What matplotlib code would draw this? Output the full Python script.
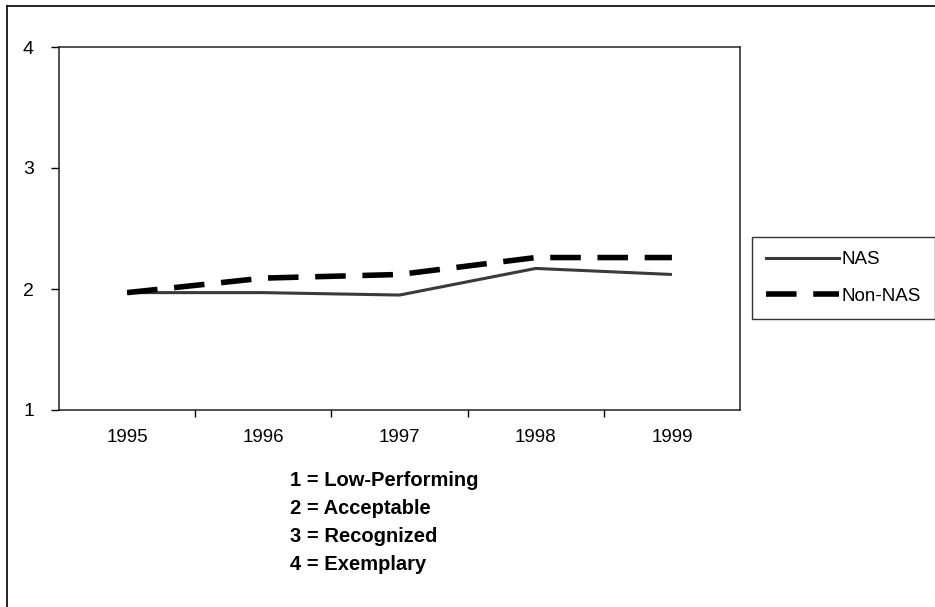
import matplotlib
matplotlib.use("Agg")
import matplotlib.pyplot as plt
from matplotlib.lines import Line2D

plt.rcParams['font.family'] = ['Liberation Sans', 'DejaVu Sans']

years = ["1995", "1996", "1997", "1998", "1999"]
nas = [1.97, 1.97, 1.95, 2.17, 2.12]
non_nas = [1.97, 2.09, 2.12, 2.26, 2.26]
y_ticks = [1, 2, 3, 4]
key_lines = ["1 = Low-Performing", "2 = Acceptable", "3 = Recognized", "4 = Exemplary"]

W, H = 935, 607
fig = plt.figure(figsize=(W / 100, H / 100), dpi=100)
ax = fig.add_axes([59 / W, 1 - 410 / H, (740 - 59) / W, (410 - 47) / H])

x = list(range(len(years)))
ax.plot(x, nas, color="#3a3a3a", lw=2.2, solid_capstyle="butt", label="NAS")
ax.plot(x, non_nas, color="black", lw=4, linestyle=(0, (5.5, 3)), dash_capstyle="butt", label="Non-NAS")

ax.set_xlim(-0.5, len(years) - 0.5)
ax.set_ylim(1, 4)
ax.set_yticks(y_ticks)
ax.set_yticklabels([str(v) for v in y_ticks], fontsize=14)
ax.set_xticks(x)
ax.set_xticklabels(years, fontsize=13.5)
ax.tick_params(axis="x", length=0, pad=14)
ax.set_xticks([i + 0.5 for i in x[:-1]], minor=True)
ax.tick_params(axis="x", which="minor", length=5, width=1, direction="out")
ax.tick_params(axis="y", length=6, width=1, direction="out", pad=12)
for s in ax.spines.values():
    s.set_linewidth(1.1)
    s.set_color("#222222")

leg = fig.legend(handles=[
    Line2D([], [], color="#3a3a3a", lw=2.2),
    Line2D([], [], color="black", lw=4, linestyle=(0, (5.5, 3)), dash_capstyle="butt"),
], labels=["NAS", "Non-NAS"], loc="upper left", bbox_to_anchor=(752 / W, 1 - 237 / H),
    frameon=True, fancybox=False, edgecolor="black", fontsize=13.5,
    handlelength=3.9, handletextpad=0.1, borderpad=0.75, labelspacing=1.05, borderaxespad=0)
leg.get_frame().set_linewidth(1.0)

for i, t in enumerate(key_lines):
    fig.text(290 / W, 1 - (480 + i * 28) / H, t, fontsize=14.5, fontweight="bold",
             va="center", ha="left")

fig.add_artist(Line2D([7 / W, 7 / W], [0, 1 - 6 / H], color="black", lw=1.2, transform=fig.transFigure))
fig.add_artist(Line2D([7 / W, 1], [1 - 6 / H, 1 - 6 / H], color="black", lw=1.2, transform=fig.transFigure))

fig.savefig("out.png", dpi=100)
